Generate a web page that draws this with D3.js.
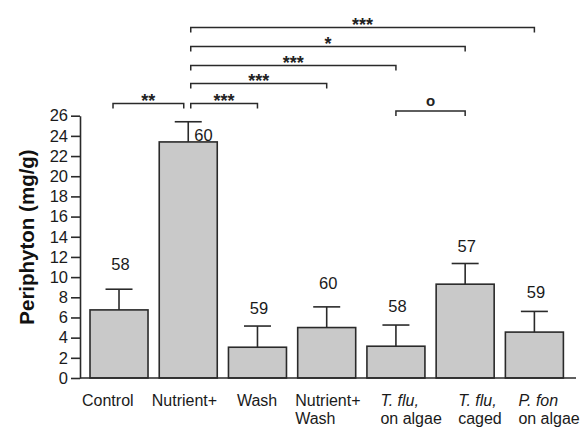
<!DOCTYPE html>
<html>
<head>
<meta charset="utf-8">
<script src="https://cdn.jsdelivr.net/npm/d3@7"></script>
<style>
  html, body { margin: 0; padding: 0; background: #fff; }
  svg { display: block; font-family: "Liberation Sans", Arial, sans-serif; }
</style>
</head>
<body>
<svg id="chart" width="585" height="429"></svg>
<script>
// ---- data ----
const categories = ["Control", "Nutrient+", "Wash", "Nutrient+ Wash", "T. flu, on algae", "T. flu, caged", "P. fon on algae"];
const labelLines = [
  [["Control", false]],
  [["Nutrient+", false]],
  [["Wash", false]],
  [["Nutrient+", false], ["Wash", false]],
  [["T. flu,", true], ["on algae", false]],
  [["T. flu,", true], ["caged", false]],
  [["P. fon", true], ["on algae", false]]
];
const means = [6.75, 23.4, 3.05, 5.0, 3.15, 9.3, 4.55];
const errors = [2.05, 2.0, 2.1, 2.05, 2.1, 2.05, 2.05];
const sampleSizes = [58, 60, 59, 60, 58, 57, 59];
const yTicks = [0, 2, 4, 6, 8, 10, 12, 14, 16, 18, 20, 22, 24, 26];
// significance comparisons: [from index, to index, label]
const comparisons = [
  [0, 1, "**"],
  [1, 2, "***"],
  [1, 3, "***"],
  [1, 4, "***"],
  [1, 5, "*"],
  [1, 6, "***"],
  [4, 5, "o"]
];

// ---- layout (pixels) ----
const bracketY = [103.5, 103.5, 83.5, 65.5, 46.5, 27.5, 111];
const countOffset = [19, -19, 12, 18, 13, 11, 13];
const labelDx = [-8, -7.5, 8.5, -2.5, 13.5, 22, 13];
const ink = "#2a2a2a";

const svg = d3.select("#chart");

const x = d3.scaleBand()
  .domain(categories)
  .range([84.4, 569])
  .paddingInner(0.162)
  .paddingOuter(0.081);

const y = d3.scaleLinear().domain([0, 26]).range([378, 115.7]);

// bars
svg.append("g").selectAll("rect")
  .data(categories)
  .join("rect")
  .attr("x", d => x(d))
  .attr("y", (d, i) => y(means[i]))
  .attr("width", x.bandwidth())
  .attr("height", (d, i) => y(0) - y(means[i]))
  .attr("fill", "#c9c9c9")
  .attr("stroke", ink)
  .attr("stroke-width", 1.6);

// error bars
const eg = svg.append("g").attr("stroke", ink).attr("stroke-width", 1.6);
categories.forEach((c, i) => {
  const cx = x(c) + x.bandwidth() / 2;
  eg.append("line").attr("x1", cx).attr("x2", cx)
    .attr("y1", y(means[i])).attr("y2", y(means[i] + errors[i]));
  eg.append("line").attr("x1", cx - 13.5).attr("x2", cx + 13.5)
    .attr("y1", y(means[i] + errors[i])).attr("y2", y(means[i] + errors[i]));
});

// sample size labels
svg.append("g").selectAll("text")
  .data(categories)
  .join("text")
  .attr("x", (d, i) => i === 1 ? x(d) + x.bandwidth() / 2 + 6 : x(d) + x.bandwidth() / 2 + 1.5)
  .attr("y", (d, i) => y(means[i] + errors[i]) - countOffset[i])
  .attr("text-anchor", (d, i) => i === 1 ? "start" : "middle")
  .attr("font-size", 16.5)
  .attr("fill", "#1a1a1a")
  .text((d, i) => sampleSizes[i]);

// y axis
const yAxis = d3.axisLeft(y).tickValues(yTicks).tickSize(9).tickSizeOuter(0).tickPadding(3);
const yg = svg.append("g").attr("transform", "translate(80,0)").call(yAxis);
yg.select(".domain").attr("stroke", ink).attr("stroke-width", 1.6);
yg.selectAll(".tick line").attr("stroke", ink).attr("stroke-width", 1.6);
yg.selectAll(".tick text").attr("font-size", 16.5).attr("fill", "#1a1a1a")
  .attr("font-family", "Liberation Sans, Arial, sans-serif");

// x axis baseline
svg.append("line").attr("x1", 80).attr("x2", 576)
  .attr("y1", y(0)).attr("y2", y(0))
  .attr("stroke", ink).attr("stroke-width", 1.6);

// x labels
categories.forEach((c, i) => {
  const t = svg.append("text")
    .attr("font-size", 16)
    .attr("fill", "#1a1a1a");
  labelLines[i].forEach((ln, j) => {
    t.append("tspan")
      .attr("x", x(c) + labelDx[i])
      .attr("y", 405.5 + j * 18.5)
      .attr("font-style", ln[1] ? "italic" : "normal")
      .text(ln[0]);
  });
});

// y axis title
svg.append("text")
  .attr("transform", "translate(34,237) rotate(-90)")
  .attr("text-anchor", "middle")
  .attr("font-size", 20.5)
  .attr("font-weight", "bold")
  .attr("fill", "#111")
  .text("Periphyton (mg/g)");

// significance brackets
const bg = svg.append("g");
comparisons.forEach((cmp, k) => {
  const [a, b, lab] = cmp;
  const ca = x(categories[a]) + x.bandwidth() / 2;
  const cb = x(categories[b]) + x.bandwidth() / 2;
  let x1 = ca, x2 = cb;
  if (a === 1) x1 = ca + 2.5;
  if (b === 1) x2 = cb - 4.5;
  if (a === 0) x1 = ca - 6;
  const yy = bracketY[k];
  bg.append("path")
    .attr("d", `M${x1},${yy + 5}V${yy}H${x2}V${yy + 5}`)
    .attr("fill", "none")
    .attr("stroke", ink)
    .attr("stroke-width", 1.5);
  bg.append("text")
    .attr("x", (x1 + x2) / 2)
    .attr("y", lab === "o" ? yy - 5 : yy + 3)
    .attr("text-anchor", "middle")
    .attr("font-size", lab === "o" ? 15 : 18)
    .attr("font-weight", "bold")
    .attr("fill", "#222")
    .text(lab);
});
</script>
</body>
</html>
